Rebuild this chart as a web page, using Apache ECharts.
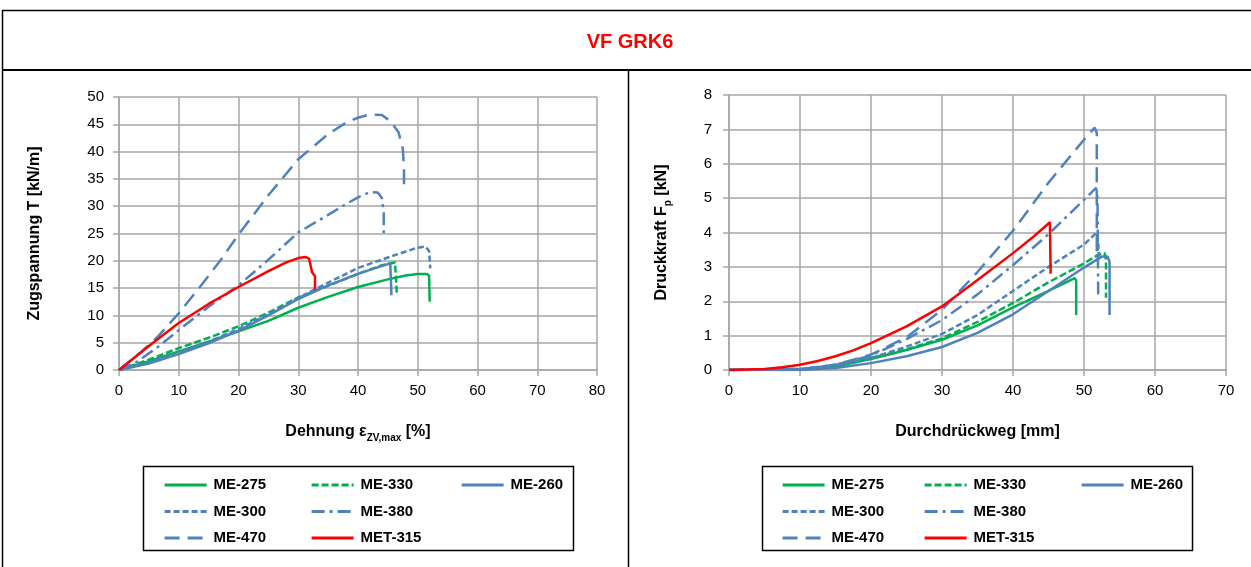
<!DOCTYPE html>
<html>
<head>
<meta charset="utf-8">
<script src="https://cdn.jsdelivr.net/npm/echarts@6/dist/echarts.min.js"></script>
<style>
  html, body { margin: 0; padding: 0; background: #ffffff; }
  #chart { width: 1251px; height: 567px; }
</style>
</head>
<body>
<div id="chart"></div>
<script>
// Sample names, in legend order (row by row)
const sampleNames = ['ME-275', 'ME-330', 'ME-260', 'ME-300', 'ME-380', 'ME-470', 'MET-315'];

// Axis ticks
const strainTicks = [0, 10, 20, 30, 40, 50, 60, 70, 80];
const tensionTicks = [0, 5, 10, 15, 20, 25, 30, 35, 40, 45, 50];
const travelTicks = [0, 10, 20, 30, 40, 50, 60, 70];
const forceTicks = [0, 1, 2, 3, 4, 5, 6, 7, 8];

// Zugversuch: [Dehnung %, Zugspannung kN/m]
const tensileME275 = [[0,0],[5,1.6],[10,3.4],[15,5.2],[20,7.1],[25,9.0],[30,11.4],[35,13.4],[40,15.2],[45,16.6],[48,17.3],[50,17.6],[51.5,17.6],[51.9,17.3],[52,12.5]];
const tensileME330 = [[0,0],[5,1.9],[10,4.0],[15,5.9],[20,8.0],[25,10.5],[30,13.3],[35,15.4],[40,17.6],[44,19.2],[46.2,19.7],[46.5,19.5],[46.5,14]];
const tensileME260 = [[0,0],[5,1.2],[10,2.9],[15,4.9],[20,7.2],[25,10.0],[30,13.0],[35,15.5],[40,17.6],[43,18.7],[45,19.4],[45.4,19.5],[45.6,19.2],[45.6,13.7]];
const tensileME300 = [[0,0],[5,1.4],[10,3.2],[15,5.2],[20,7.5],[25,10.2],[30,13.2],[35,16.0],[40,18.7],[45,20.6],[48,21.7],[50,22.4],[51.3,22.6],[51.9,21.8],[52.1,18.6]];
const tensileME380 = [[0,0],[3,1.5],[6.6,4.3],[10,7.3],[15,11.6],[20,15.5],[25,20.2],[30,25.2],[35,28.4],[38,30.4],[40,31.6],[42,32.6],[43.3,32.5],[44,31.5],[44.3,29],[44.3,24.4]];
const tensileME470 = [[0,0],[3.5,3.1],[6.5,6.1],[10,10.4],[13.6,15.3],[17,20.1],[20,24.8],[25,32],[30,38.6],[35,43.2],[38,45.3],[40,46.2],[42,46.8],[44,46.7],[45.5,45.5],[46.8,43.5],[47.5,40.5],[47.7,37],[47.7,33]];
const tensileMET315 = [[0,0],[5,4.4],[10,8.6],[15,12.1],[20,15.2],[25,18.1],[28,19.7],[30,20.5],[31.2,20.7],[31.8,20.4],[32.1,19],[32.3,17.9],[32.8,17.2],[32.8,14.7]];

// Durchdrückversuch: [Durchdrückweg mm, Druckkraft kN]
const punchME275 = [[0,0],[10,0.01],[15,0.1],[20,0.32],[25,0.58],[30,0.88],[35,1.3],[40,1.82],[45,2.3],[48.7,2.67],[48.9,2.6],[48.9,1.6]];
const punchME330 = [[0,0],[10,0.01],[13,0.08],[20,0.35],[25,0.6],[30,0.92],[35,1.4],[40,1.95],[45,2.55],[50,3.1],[52,3.35],[52.9,3.4],[53.1,3.2],[53.1,2.1]];
const punchME260 = [[0,0],[10,0],[15,0.06],[20,0.2],[25,0.4],[30,0.67],[35,1.08],[40,1.62],[45,2.3],[50,2.98],[52.5,3.3],[53.3,3.3],[53.6,3.15],[53.6,1.6]];
const punchME300 = [[0,0],[10,0.03],[15,0.12],[20,0.35],[25,0.68],[30,1.05],[35,1.6],[40,2.3],[45,3.0],[50,3.65],[51.8,4.0],[52,3.7],[52.1,3.3]];
const punchME380 = [[0,0],[10,0.03],[15,0.15],[20,0.42],[25,0.9],[30,1.45],[35,2.2],[40,3.05],[45,3.95],[50,4.95],[51.7,5.3],[51.9,5.0],[52,2.2]];
const punchME470 = [[0,0],[10,0.02],[15,0.15],[20,0.45],[25,0.95],[30,1.75],[35,2.85],[40,4.05],[45,5.45],[50,6.7],[51.5,7.05],[51.8,6.9],[51.8,3.3]];
const punchMET315 = [[0,0],[5,0.03],[7.5,0.08],[10,0.15],[12.5,0.26],[15,0.4],[17.5,0.57],[20,0.78],[25,1.27],[30,1.85],[35,2.62],[40,3.4],[43,3.9],[45.2,4.3],[45.3,2.8]];

const tensileData = [tensileME275, tensileME330, tensileME260, tensileME300, tensileME380, tensileME470, tensileMET315];
const punchData = [punchME275, punchME330, punchME260, punchME300, punchME380, punchME470, punchMET315];

const GREEN = '#00B050', BLUE = '#4F81BD', RED = '#FF0000';
const lineLook = {
  'ME-275': { color: GREEN, type: 'solid' },
  'ME-330': { color: GREEN, type: [7, 3] },
  'ME-260': { color: BLUE, type: 'solid' },
  'ME-300': { color: BLUE, type: [6, 3] },
  'ME-380': { color: BLUE, type: [13, 5, 3, 5] },
  'ME-470': { color: BLUE, type: [15, 8] },
  'MET-315': { color: RED, type: 'solid' }
};

const FONT = '"Liberation Sans", Arial, sans-serif';
const GRID_GRAY = '#a6a6a6';

function valueAxis(gridIndex, ticks, labelMargin, extra) {
  return Object.assign({
    type: 'value',
    gridIndex: gridIndex,
    min: ticks[0],
    max: ticks[ticks.length - 1],
    interval: ticks[1] - ticks[0],
    axisLine: { show: true, lineStyle: { color: GRID_GRAY, width: 1.5 } },
    axisTick: { show: true, length: 6, lineStyle: { color: GRID_GRAY, width: 1.5 } },
    splitLine: { show: true, lineStyle: { color: GRID_GRAY, width: 1.5 } },
    axisLabel: { color: '#000', fontSize: 15, fontFamily: FONT, margin: labelMargin },
    nameLocation: 'middle',
    nameTextStyle: {
      color: '#000', fontSize: 16, fontWeight: 'bold', fontFamily: FONT, lineHeight: 22,
      rich: {
        sub: { fontSize: 10, fontWeight: 'bold', fontFamily: FONT, lineHeight: 12, verticalAlign: 'bottom', color: '#000' }
      }
    }
  }, extra);
}

function buildSeries(dataSets, axisIndex) {
  return sampleNames.map((name, i) => ({
    name: name,
    type: 'line',
    xAxisIndex: axisIndex,
    yAxisIndex: axisIndex,
    data: dataSets[i],
    showSymbol: false,
    symbol: 'none',
    animation: false,
    lineStyle: { color: lineLook[name].color, width: 2.5, type: lineLook[name].type },
    itemStyle: { color: lineLook[name].color }
  }));
}

// Legend columns (vertical), three per chart; the line sample only, no marker
function legendColumn(names, left) {
  return {
    orient: 'vertical',
    left: left,
    top: 472,
    itemWidth: 42,
    itemHeight: 14,
    itemGap: 10.5,
    selectedMode: false,
    data: names,
    itemStyle: { opacity: 0, borderWidth: 0 },
    lineStyle: { width: 3.2 },
    textStyle: { color: '#000', fontSize: 15, fontWeight: 'bold', fontFamily: FONT, lineHeight: 16, padding: [0, 0, 0, 2] }
  };
}
const legendCols = [['ME-275', 'ME-300', 'ME-470'], ['ME-330', 'ME-380', 'MET-315'], ['ME-260']];

const chart = echarts.init(document.getElementById('chart'), null, { renderer: 'canvas' });

const option = {
  backgroundColor: '#ffffff',
  animation: false,
  grid: [
    { left: 119, top: 97, width: 478, height: 273 },
    { left: 729, top: 95, width: 497, height: 275 }
  ],
  xAxis: [
    valueAxis(0, strainTicks, 13, { name: 'Dehnung ε{sub|ZV,max} [%]', nameGap: 51 }),
    valueAxis(1, travelTicks, 13, { name: 'Durchdrückweg [mm]', nameGap: 51 })
  ],
  yAxis: [
    valueAxis(0, tensionTicks, 15, { name: 'Zugspannung T [kN/m]', nameGap: 73 }),
    valueAxis(1, forceTicks, 17, { name: 'Druckkraft F{sub|p} [kN]', nameGap: 56 })
  ],
  legend: [
    legendColumn(legendCols[0], 158),
    legendColumn(legendCols[1], 305),
    legendColumn(legendCols[2], 455),
    legendColumn(legendCols[0], 776),
    legendColumn(legendCols[1], 918),
    legendColumn(legendCols[2], 1075)
  ],
  series: buildSeries(tensileData, 0).concat(buildSeries(punchData, 1)),
  graphic: [
    // outer frame and panel dividers
    { type: 'line', shape: { x1: 2, y1: 10.5, x2: 1251, y2: 10.5 }, style: { stroke: '#000', lineWidth: 1.5 }, silent: true },
    { type: 'line', shape: { x1: 2, y1: 70, x2: 1251, y2: 70 }, style: { stroke: '#000', lineWidth: 2 }, silent: true },
    { type: 'line', shape: { x1: 2.5, y1: 10, x2: 2.5, y2: 567 }, style: { stroke: '#000', lineWidth: 1.5 }, silent: true },
    { type: 'line', shape: { x1: 628.5, y1: 70, x2: 628.5, y2: 567 }, style: { stroke: '#000', lineWidth: 1.5 }, silent: true },
    // title
    { type: 'text', x: 630, y: 42, silent: true,
      style: { text: 'VF GRK6', fill: '#FF0000', font: 'bold 20px ' + FONT, align: 'center', verticalAlign: 'middle' } },
    // legend boxes
    { type: 'rect', shape: { x: 143.5, y: 466.5, width: 430, height: 84 }, style: { fill: 'none', stroke: '#000', lineWidth: 1.5 }, silent: true },
    { type: 'rect', shape: { x: 762.5, y: 466.5, width: 430, height: 84 }, style: { fill: 'none', stroke: '#000', lineWidth: 1.5 }, silent: true }
  ]
};

chart.setOption(option);
</script>
</body>
</html>
